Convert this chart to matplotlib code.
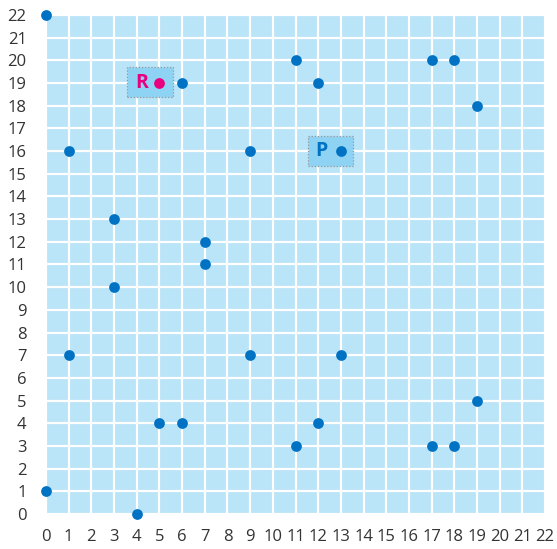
import matplotlib
matplotlib.use("Agg")
import matplotlib.pyplot as plt
from matplotlib.patches import Rectangle

# Grid points
xs = [0, 1, 3, 3, 1, 0, 4, 5, 6, 7, 7, 6, 9, 9, 11, 12, 13, 13, 11, 12, 17, 18, 19, 19, 17, 18]
ys = [22, 16, 13, 10, 7, 1, 0, 4, 4, 12, 11, 19, 16, 7, 20, 19, 16, 7, 3, 4, 20, 20, 18, 5, 3, 3]
r_point = (5, 19)
p_point = (13, 16)
ticks = list(range(0, 23))

plt.rcParams['font.family'] = ['Open Sans', 'DejaVu Sans']

fig = plt.figure(figsize=(5.57, 5.49), dpi=100)
ax = fig.add_axes([0.0826, 0.0638, 0.8959, 0.9089])
ax.set_facecolor('#bae4f8')
ax.set_xlim(0, 22)
ax.set_ylim(0, 22)

for t in ticks:
    ax.axvline(t, color='white', lw=1.6, zorder=1)
    ax.axhline(t, color='white', lw=1.6, zorder=1)

# Highlight boxes behind the labelled points
box_kw = dict(facecolor='#8ed3f3', edgecolor='#999999', lw=0.9, ls=(0, (1, 1.5)), zorder=2)
ax.add_patch(Rectangle((3.57, 18.39), 2.03, 1.31, **box_kw))
ax.add_patch(Rectangle((11.55, 15.34), 1.99, 1.33, **box_kw))

ax.scatter(xs, ys, s=60, color='#0072c3', zorder=3, clip_on=False, linewidths=0)
ax.scatter([r_point[0]], [r_point[1]], s=60, color='#e8007f', zorder=3, clip_on=False, linewidths=0)

ax.text(4.2, 19.0, 'R', color='#e8007f', fontsize=14, fontweight='bold',
        ha='center', va='center', zorder=4)
ax.text(12.15, 16.0, 'P', color='#0072c3', fontsize=14, fontweight='bold',
        ha='center', va='center', zorder=4)

ax.set_xticks(ticks)
ax.set_yticks(ticks)
ax.set_xticklabels([str(t) for t in ticks])
ax.set_yticklabels([str(t) for t in ticks])
ax.tick_params(length=0, labelsize=12, labelcolor='#333333')
ax.tick_params(axis='x', pad=11)
ax.tick_params(axis='y', pad=14)
for s in ax.spines.values():
    s.set_visible(False)

fig.savefig('out.png', dpi=100)
